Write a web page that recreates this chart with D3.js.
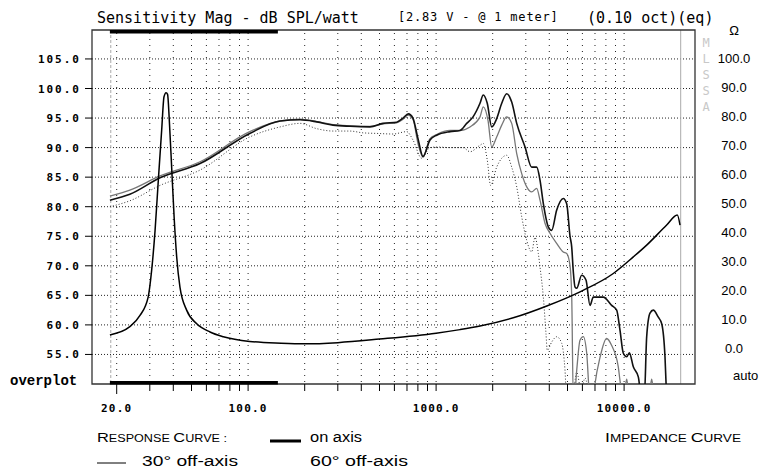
<!DOCTYPE html>
<html>
<head>
<meta charset="utf-8">
<script src="https://cdn.jsdelivr.net/npm/d3@7"></script>
<style>
  body { margin: 0; background: #fff; }
</style>
</head>
<body>
<script>
// grid frequencies and tick labels
var freqGrid = [20,30,40,50,60,70,80,90,100,200,300,400,500,600,700,800,900,
                1000,2000,3000,4000,5000,6000,7000,8000,9000,10000];
var freqLabels = [20, 100, 1000, 10000];
var dbTicks = [105,100,95,90,85,80,75,70,65,60,55];
var ohmTicks = [100,90,80,70,60,50,40,30,20,10,0];

// [frequency Hz, dB SPL]
var onAxis = [[18.4,81.1],[23.5,82.1],[34,84.9],[55.5,87.3],[102,92.4],[148,94.5],[189,94.7],
  [232,94.35],[283,93.8],[348,93.6],[445,93.5],[522,94.1],[617,94.3],[667,95.0],[712,95.7],
  [753,95.0],[801,91.5],[852,88.5],[928,91.3],[1007,92.1],[1186,92.7],[1340,92.9],[1454,94.1],
  [1572,95.2],[1712,97.5],[1782,98.9],[1871,97.5],[1976,93.5],[2100,94.9],[2234,97.5],
  [2374,99.1],[2524,97.7],[2684,94.1],[2972,90.1],[3224,86.7],[3428,86.7],[3570,84.5],
  [3719,80.5],[3951,76.6],[4120,76.0],[4377,79.4],[4748,81.4],[4950,80.5],[5156,75.0],
  [5263,73.2],[5368,69.0],[5482,66.4],[5596,66.2],[5948,68.4],[6269,67.6],[6586,63.3],
  [6856,64.7],[7749,64.7],[8590,63.3],[9131,62.5],[9508,59.1],[9904,55.2],[10326,54.6],
  [10660,55.3],[11194,52.9],[11900,51.2],[12406,47.5],[12800,47.5],[13184,58.0],[13732,62.0],
  [14290,62.5],[15206,61.3],[15850,60.2],[16500,54.6],[16846,47.5]];

var offAxis30 = [[18.4,81.8],[23.5,82.8],[34,85.2],[55.5,87.6],[102,92.7],[148,94.5],[189,94.8],
  [232,94.4],[283,93.9],[348,93.7],[445,93.6],[522,94.0],[617,94.2],[667,94.8],[709,95.5],
  [753,94.8],[801,90.7],[852,88.4],[928,91.5],[1007,92.2],[1186,92.9],[1340,92.9],[1514,93.5],
  [1712,95.2],[1782,96.9],[1888,94.6],[1976,90.1],[2100,91.8],[2234,93.8],[2374,95.2],
  [2524,94.1],[2684,89.0],[2853,85.6],[3034,83.35],[3224,82.5],[3428,83.1],[3570,81.1],
  [3795,77.2],[4034,75.5],[4377,73.8],[4748,72.35],[4950,72.1],[5156,70.0],[5263,65.0],
  [5368,47.5],[5435,47.5],[5596,52.3],[5826,57.4],[6067,58.0],[6325,55.2],[6586,47.5],
  [6856,47.5],[7000,50.0],[7446,54.5],[8072,57.7],[8590,56.5],[9312,52.9],[9508,50.6],
  [9904,47.5],[10326,50.8],[10660,47.5],[13500,47.5],[14020,50.8],[14500,47.5],[16000,47.5]];

var offAxis60 = [[18.4,80.0],[23.5,81.0],[34,83.6],[55.5,86.2],[102,91.8],[148,93.5],[189,94.1],
  [232,93.2],[283,92.8],[348,92.8],[408,92.5],[483,92.4],[590,92.3],[698,92.7],[753,91.3],
  [838,88.2],[928,90.0],[1007,90.1],[1186,90.0],[1390,90.0],[1514,89.3],[1712,90.4],
  [1782,90.7],[1871,87.9],[1950,83.6],[2100,86.7],[2234,88.2],[2374,88.7],[2524,86.7],
  [2684,83.35],[2853,78.3],[3034,74.3],[3224,72.35],[3358,74.8],[3497,72.1],[3570,69.8],
  [3719,64.7],[3842,58.5],[3901,55.7],[4120,57.1],[4377,58.0],[4656,56.9],[4849,52.3],
  [4950,47.5],[5300,47.5],[5600,52.0],[5900,49.0],[6200,51.0],[6500,47.5]];

// [frequency Hz, ohms]
var impedance = [[18.4,6.6],[23.5,9.4],[26.6,13.2],[29.4,19.4],[30.7,28.6],[32.0,42],[33.3,59],
  [34.7,76],[35.7,87.2],[36.6,88.6],[37.3,88],[38.1,79.2],[39.2,63.4],[40.4,46.6],[41.7,33],
  [43.4,22.8],[47.1,15],[53.3,10.4],[62.7,7.6],[73.8,6.0],[102,4.4],[150,3.8],[200,3.6],
  [300,4.0],[500,5.2],[1000,7.2],[1340,8.4],[1712,9.6],[2572,12.4],[3878,16.4],[5826,21.2],
  [8760,27.4],[11194,33],[13184,37],[16846,43.8],[19188,47.2],[19830,43.8]];

var width = 776, height = 469;
var frame = {left: 92, top: 30, right: 695, bottom: 384};

var svg = d3.select("body").append("svg")
    .attr("width", width)
    .attr("height", height)
    .style("font-family", "DejaVu Sans Mono");

var x = d3.scaleLog().domain([20, 20000]).range([116.7, 680.7]);
var y = d3.scaleLinear().domain([50, 110]).range([384, 29.4]);
var z = d3.scaleLinear().domain([0, 110]).range([y(55), y(110)]);
var zLabel = d3.scaleLinear().domain([0, 100]).range([348, 58]);

// horizontal grid
svg.selectAll("line.hgrid")
    .data(dbTicks)
    .enter().append("line")
    .attr("x1", frame.left).attr("x2", frame.right)
    .attr("y1", d => y(d)).attr("y2", d => y(d))
    .style("stroke", "#222").style("stroke-width", 1)
    .style("stroke-dasharray", "1,2");

// vertical grid
svg.selectAll("line.vgrid")
    .data(freqGrid)
    .enter().append("line")
    .attr("x1", d => x(d)).attr("x2", d => x(d))
    .attr("y1", frame.top + 3).attr("y2", frame.bottom)
    .style("stroke", "#222").style("stroke-width", 1)
    .style("stroke-dasharray", "1,5");

// start and 20k markers
svg.append("line")
    .attr("x1", x(18.6)).attr("x2", x(18.6))
    .attr("y1", frame.top).attr("y2", frame.bottom)
    .style("stroke", "#aaa").style("stroke-dasharray", "3,2");
svg.append("line")
    .attr("x1", x(20000)).attr("x2", x(20000))
    .attr("y1", frame.top).attr("y2", frame.bottom)
    .style("stroke", "#aaa");

// frame
svg.append("path")
    .attr("d", `M${frame.left},${frame.top}H${frame.right}V${frame.bottom}H${frame.left}Z`)
    .style("fill", "none").style("stroke", "#333").style("stroke-width", 1.3);

// thick range bars
[frame.top, frame.bottom - 3].forEach(yy => {
  svg.append("rect")
      .attr("x", x(18.4)).attr("y", yy)
      .attr("width", x(144) - x(18.4)).attr("height", 3.5)
      .style("fill", "#000");
});

// left ticks and labels
svg.selectAll("line.ltick")
    .data(dbTicks)
    .enter().append("line")
    .attr("x1", 85).attr("x2", frame.left)
    .attr("y1", d => y(d)).attr("y2", d => y(d))
    .style("stroke", "#000");
svg.selectAll("text.ylab")
    .data(dbTicks)
    .enter().append("text")
    .attr("x", 81).attr("y", d => y(d) + 4)
    .attr("text-anchor", "end")
    .style("font-size", "11px").style("font-weight", "bold")
    .style("letter-spacing", "2px")
    .text(d => d.toFixed(1));
svg.append("text")
    .attr("x", 10).attr("y", 385)
    .style("font-family", "Liberation Mono").style("font-size", "14px")
    .style("font-weight", "bold")
    .text("overplot");

// bottom ticks and labels
svg.selectAll("line.btick")
    .data(freqGrid)
    .enter().append("line")
    .attr("x1", d => x(d)).attr("x2", d => x(d))
    .attr("y1", frame.bottom).attr("y2", d => d == 20 ? 394 : 391)
    .style("stroke", "#000");
svg.selectAll("text.xlab")
    .data(freqLabels)
    .enter().append("text")
    .attr("x", d => x(d)).attr("y", 412)
    .attr("text-anchor", "middle")
    .style("font-size", "11px").style("font-weight", "bold")
    .style("letter-spacing", "1.2px")
    .text(d => d.toFixed(1));

// right axis labels
svg.append("text").attr("x", 734).attr("y", 35).attr("text-anchor", "middle")
    .style("font-family", "Liberation Sans").style("font-size", "13px").text("Ω");
svg.selectAll("text.zlab")
    .data(ohmTicks)
    .enter().append("text")
    .attr("x", 734).attr("y", d => zLabel(d) + 4.5)
    .attr("text-anchor", "middle")
    .style("font-family", "Liberation Sans").style("font-size", "13px")
    .text(d => d.toFixed(1));
svg.append("text").attr("x", 733).attr("y", 379.5)
    .style("font-family", "Liberation Sans").style("font-size", "13px").text("auto");

// MLSSA
"MLSSA".split("").forEach((c, i) => {
  svg.append("text").attr("x", 706).attr("y", 47 + i * 16)
      .attr("text-anchor", "middle")
      .style("font-size", "12px").style("fill", "#c8c8c8").text(c);
});

// titles
svg.append("text").attr("x", 97).attr("y", 23)
    .style("font-size", "15px").text("Sensitivity Mag - dB SPL/watt");
svg.append("text").attr("x", 398).attr("y", 21)
    .style("font-size", "12px").style("letter-spacing", "0.8px")
    .text("[2.83 V - @ 1 meter]");
svg.append("text").attr("x", 587).attr("y", 23)
    .style("font-size", "15px").text("(0.10 oct)(eq)");

// curves
svg.append("clipPath").attr("id", "plotclip")
    .append("rect")
    .attr("x", frame.left).attr("y", frame.top)
    .attr("width", frame.right - frame.left).attr("height", frame.bottom - frame.top);

var plot = svg.append("g").attr("clip-path", "url(#plotclip)");
var line = d3.line().x(d => x(d[0])).y(d => y(d[1])).curve(d3.curveMonotoneX);
var zline = d3.line().x(d => x(d[0])).y(d => z(d[1])).curve(d3.curveMonotoneX);

plot.append("path").datum(offAxis60).attr("d", line)
    .style("fill", "none").style("stroke", "#333").style("stroke-width", 1)
    .style("stroke-dasharray", "1,2");
plot.append("path").datum(offAxis30).attr("d", line)
    .style("fill", "none").style("stroke", "#777").style("stroke-width", 1.3);
plot.append("path").datum(onAxis).attr("d", line)
    .style("fill", "none").style("stroke", "#111").style("stroke-width", 1.6);
plot.append("path").datum(impedance).attr("d", zline)
    .style("fill", "none").style("stroke", "#000").style("stroke-width", 1.5);

// legend
var legend = svg.append("g").style("font-family", "Liberation Sans");
function smallCaps(xx, yy, w, parts){
  let t = legend.append("text").attr("x", xx).attr("y", yy)
      .attr("textLength", w).attr("lengthAdjust", "spacingAndGlyphs");
  parts.forEach(p => t.append("tspan").style("font-size", p[1] + "px").text(p[0]));
}
smallCaps(97, 442, 130, [["R",13],["ESPONSE ",10],["C",13],["URVE :",10]]);
smallCaps(605, 442, 136, [["I",13],["MPEDANCE ",10],["C",13],["URVE",10]]);

legend.append("line").attr("x1", 270).attr("x2", 301).attr("y1", 441).attr("y2", 441)
    .style("stroke", "#000").style("stroke-width", 3);
legend.append("text").attr("x", 310).attr("y", 442).style("font-size", "14px")
    .attr("textLength", 52).attr("lengthAdjust", "spacingAndGlyphs").text("on axis");
legend.append("line").attr("x1", 97).attr("x2", 126).attr("y1", 463).attr("y2", 463)
    .style("stroke", "#000").style("stroke-width", 1);
legend.append("text").attr("x", 142).attr("y", 466).style("font-size", "14px")
    .attr("textLength", 96).attr("lengthAdjust", "spacingAndGlyphs").text("30° off-axis");
legend.append("text").attr("x", 310).attr("y", 466).style("font-size", "14px")
    .attr("textLength", 98).attr("lengthAdjust", "spacingAndGlyphs").text("60° off-axis");
</script>
</body>
</html>
